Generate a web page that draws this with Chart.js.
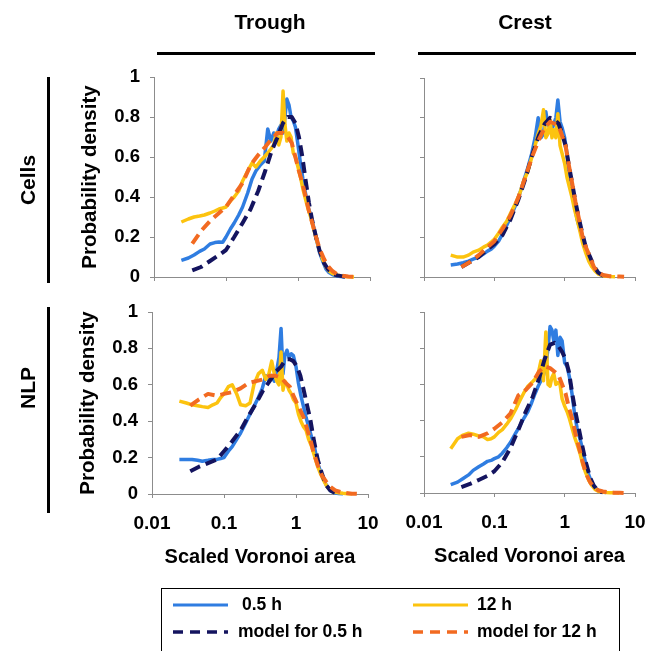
<!DOCTYPE html>
<html>
<head>
<meta charset="utf-8">
<script src="https://cdn.jsdelivr.net/npm/chart.js@4.4.0/dist/chart.umd.min.js"></script>
<style>
html,body{margin:0;padding:0;background:#fff;}
body{width:657px;height:651px;position:relative;overflow:hidden;font-family:'Liberation Sans',Arial,sans-serif;color:#000;}
canvas.panel{position:absolute;left:0;top:0;}
.lbl{position:absolute;white-space:nowrap;font-weight:bold;line-height:1;}
.c{transform:translate(-50%,-50%);}
.rot{transform:translate(-50%,-50%) rotate(-90deg);}
.leg{position:absolute;white-space:nowrap;font-weight:bold;font-size:17.5px;line-height:1;transform:translateY(-50%);}
#legbox{position:absolute;left:161px;top:588px;width:459px;height:80px;border:1.5px solid #000;box-sizing:border-box;}
svg#deco{position:absolute;left:0;top:0;}
</style>
</head>
<body>
<canvas class="panel" id="tl" width="657" height="651"></canvas>
<canvas class="panel" id="tr" width="657" height="651"></canvas>
<canvas class="panel" id="bl" width="657" height="651"></canvas>
<canvas class="panel" id="br" width="657" height="651"></canvas>

<div class="lbl c" style="left:270px;top:21px;font-size:21px;">Trough</div>
<div class="lbl c" style="left:525px;top:21px;font-size:21px;">Crest</div>
<div class="lbl rot" style="left:27px;top:180px;font-size:21px;">Cells</div>
<div class="lbl rot" style="left:27px;top:388px;font-size:21px;">NLP</div>

<div id="legbox"></div>
<svg id="deco" width="657" height="651">
  <line x1="157" y1="53.5" x2="375" y2="53.5" stroke="#000" stroke-width="3"/>
  <line x1="418" y1="53.5" x2="636" y2="53.5" stroke="#000" stroke-width="3"/>
  <line x1="48.5" y1="77" x2="48.5" y2="283" stroke="#000" stroke-width="3"/>
  <line x1="48.5" y1="307" x2="48.5" y2="513" stroke="#000" stroke-width="3"/>
  <line x1="173" y1="605" x2="228" y2="605" stroke="#2f7de1" stroke-width="3"/>
  <line x1="413" y1="605" x2="468" y2="605" stroke="#fcc30f" stroke-width="3"/>
  <line x1="173" y1="632" x2="228" y2="632" stroke="#14145f" stroke-width="3.5" stroke-dasharray="10,7"/>
  <line x1="413" y1="632" x2="468" y2="632" stroke="#f26a21" stroke-width="3.5" stroke-dasharray="10,7"/>
</svg>
<div class="leg" style="left:242px;top:605px;">0.5 h</div>
<div class="leg" style="left:477px;top:605px;">12 h</div>
<div class="leg" style="left:238px;top:632px;">model for 0.5 h</div>
<div class="leg" style="left:477px;top:632px;">model for 12 h</div>

<script>
// ---------- data ----------
const xTicks = [0.01, 0.1, 1, 10];
const yTicks = [0, 0.2, 0.4, 0.6, 0.8, 1];

// x positions of measured (solid) curves
const xData = [0.024,0.03,0.036,0.043,0.05,0.06,0.07,0.08,0.09,0.1,
               0.115,0.13,0.15,0.17,0.2,0.23,0.26,0.3,0.34,0.38,
               0.42,0.46,0.5,0.54,0.58,0.62,0.66,0.7,0.75,0.8,
               0.86,0.92,1.0,1.08,1.17,1.27,1.38,1.5,1.65,1.8,
               2.0,2.2,2.45,2.7,3.0,3.4,3.9,4.5,5.2,6.0];
// x positions of model (dashed) curves
const xModel = [0.034,0.045,0.06,0.08,0.1,0.13,0.17,0.22,0.28,0.35,
                0.43,0.52,0.62,0.72,0.82,0.92,1.03,1.15,1.28,1.42,
                1.58,1.78,2.0,2.3,2.6,3.0,3.5,4.2,5.0,6.0,7.0];

// Trough / Cells
const troughCells05 = [0.083,0.095,0.11,0.128,0.14,0.165,0.172,0.175,0.174,0.2,
  0.24,0.27,0.31,0.35,0.42,0.49,0.53,0.56,0.58,0.74,
  0.68,0.72,0.7,0.74,0.76,0.72,0.8,0.89,0.86,0.8,
  0.78,0.75,0.66,0.57,0.49,0.42,0.35,0.31,0.25,0.19,
  0.12,0.08,0.04,0.022,0.012,0.006,0.003,0.001,null,null];
const troughCells12 = [0.275,0.29,0.3,0.305,0.31,0.32,0.33,0.34,0.345,0.35,
  0.38,0.4,0.43,0.48,0.53,0.57,0.55,0.58,0.6,0.62,
  0.64,0.66,0.72,0.66,0.7,0.93,0.76,0.68,0.72,0.7,
  0.62,0.6,0.55,0.5,0.44,0.39,0.34,0.3,0.24,0.19,
  0.13,0.09,0.05,0.03,0.018,0.01,0.006,0.003,0.001,0];
const troughCellsModel05 = [0.033,0.05,0.08,0.11,0.135,0.2,0.27,0.34,0.43,0.53,
  0.63,0.7,0.77,0.8,0.8,0.77,0.7,0.6,0.48,0.37,
  0.28,0.2,0.13,0.07,0.04,0.018,0.008,0.003,0.001,null,null];
const troughCellsModel12 = [0.167,0.23,0.28,0.32,0.35,0.41,0.47,0.56,0.61,0.65,
  0.69,0.72,0.72,0.7,0.67,0.6,0.53,0.47,0.4,0.33,
  0.27,0.2,0.14,0.09,0.055,0.03,0.014,0.006,0.003,0.001,0];

// Crest / Cells
const crestCells05 = [0.06,0.065,0.072,0.08,0.09,0.1,0.115,0.13,0.14,0.155,
  0.18,0.215,0.26,0.3,0.36,0.42,0.48,0.55,0.62,0.7,
  0.8,0.7,0.72,0.83,0.76,0.78,0.74,0.77,0.8,0.89,
  0.78,0.75,0.7,0.62,0.5,0.42,0.36,0.29,0.24,0.2,
  0.14,0.1,0.065,0.04,0.02,0.01,0.005,0.002,null,null];
const crestCells12 = [0.11,0.1,0.1,0.11,0.125,0.135,0.15,0.16,0.175,0.19,
  0.22,0.25,0.28,0.32,0.37,0.42,0.48,0.53,0.6,0.66,
  0.72,0.76,0.84,0.7,0.72,0.79,0.7,0.74,0.7,0.82,
  0.66,0.62,0.57,0.5,0.45,0.4,0.34,0.29,0.23,0.17,
  0.12,0.08,0.05,0.03,0.015,0.008,0.004,0.002,0.001,null];
const crestCellsModel05 = [0.05,0.075,0.1,0.14,0.165,0.21,0.29,0.39,0.5,0.62,
  0.71,0.77,0.8,0.79,0.77,0.72,0.66,0.56,0.47,0.38,
  0.3,0.22,0.15,0.1,0.055,0.022,0.008,0.003,null,null,null];
const crestCellsModel12 = [0.05,0.075,0.11,0.15,0.18,0.24,0.31,0.4,0.51,0.61,
  0.69,0.75,0.78,0.77,0.76,0.71,0.66,0.56,0.47,0.38,
  0.3,0.21,0.15,0.1,0.05,0.023,0.01,0.005,0.003,0.002,0.001];

// Trough / NLP
const troughNlp05 = [0.19,0.19,0.19,0.185,0.18,0.185,0.19,0.19,0.195,0.2,
  0.235,0.26,0.3,0.335,0.39,0.44,0.48,0.53,0.58,0.65,
  0.62,0.65,0.62,0.68,0.75,0.91,0.66,0.76,0.79,0.75,
  0.77,0.76,0.7,0.61,0.54,0.48,0.42,0.37,0.31,0.26,
  0.17,0.12,0.075,0.04,0.018,0.007,0.003,0.001,null,null];
const troughNlp12 = [0.51,0.5,0.49,0.485,0.48,0.475,0.49,0.5,0.53,0.55,
  0.59,0.6,0.55,0.49,0.485,0.5,0.6,0.66,0.68,0.63,
  0.66,0.73,0.66,0.62,0.6,0.78,0.57,0.62,0.6,0.57,
  0.55,0.52,0.5,0.44,0.4,0.37,0.35,0.3,0.26,0.21,
  0.15,0.11,0.07,0.04,0.02,0.012,0.007,0.004,0.002,0.001];
const troughNlpModel05 = [0.125,0.15,0.17,0.19,0.235,0.29,0.35,0.43,0.5,0.57,
  0.62,0.67,0.7,0.74,0.74,0.73,0.7,0.65,0.57,0.49,
  0.41,0.29,0.19,0.11,0.05,0.02,0.006,null,null,null,null];
const troughNlpModel12 = [0.485,0.52,0.55,0.54,0.55,0.56,0.58,0.61,0.62,0.63,
  0.65,0.65,0.64,0.61,0.59,0.54,0.5,0.46,0.42,0.36,
  0.3,0.22,0.16,0.1,0.07,0.04,0.02,0.01,0.005,0.002,0.001];

// Crest / NLP
const crestNlp05 = [0.046,0.06,0.08,0.1,0.125,0.145,0.16,0.175,0.18,0.19,
  0.2,0.22,0.25,0.28,0.33,0.37,0.41,0.45,0.5,0.55,
  0.59,0.62,0.65,0.7,0.8,0.92,0.9,0.84,0.9,0.76,
  0.86,0.84,0.72,0.7,0.64,0.55,0.44,0.36,0.3,0.24,
  0.16,0.1,0.055,0.03,0.015,0.006,0.002,null,null,null];
const crestNlp12 = [0.245,0.3,0.32,0.33,0.325,0.315,0.31,0.295,0.3,0.31,
  0.335,0.35,0.38,0.41,0.46,0.51,0.55,0.59,0.61,0.63,
  0.66,0.73,0.62,0.89,0.6,0.59,0.64,0.66,0.6,0.61,
  0.6,0.52,0.48,0.45,0.41,0.36,0.31,0.27,0.22,0.16,
  0.11,0.07,0.04,0.02,0.01,0.005,0.003,0.002,0.001,0];
const crestNlpModel05 = [0.033,0.05,0.072,0.095,0.12,0.17,0.25,0.35,0.45,0.53,
  0.63,0.74,0.82,0.83,0.81,0.78,0.74,0.67,0.55,0.45,
  0.36,0.26,0.17,0.085,0.04,0.012,0.003,null,null,null,null];
const crestNlpModel12 = [0.31,0.32,0.31,0.33,0.355,0.39,0.44,0.54,0.57,0.61,
  0.67,0.7,0.69,0.67,0.65,0.6,0.55,0.47,0.41,0.33,
  0.26,0.18,0.11,0.06,0.03,0.015,0.008,0.004,0.002,0.001,0];

// ---------- styling ----------
const FONT = "'Liberation Sans', Arial, sans-serif";
const COL_05 = '#2f7de1', COL_12 = '#fcc30f', COL_M05 = '#14145f', COL_M12 = '#f26a21';
const AXIS = '#8c8c8c';
const W = 657, H = 651;

function pts(xs, ys) {
  const out = [];
  for (let i = 0; i < xs.length; i++) if (ys[i] !== null) out.push({x: xs[i], y: ys[i]});
  return out;
}

function makePanel(id, box, yLabels, xLabels, d05, d12, m05, m12) {
  const yW = yLabels ? 80 : 4;
  const xH = xLabels ? 79 : 4;
  const datasets = [
    {label: 'model for 12 h', data: pts(xModel, m12), borderColor: COL_M12, borderWidth: 4, borderDash: [11, 6]},
    {label: 'model for 0.5 h', data: pts(xModel, m05), borderColor: COL_M05, borderWidth: 4, borderDash: [11, 6]},
    {label: '12 h', data: pts(xData, d12), borderColor: COL_12, borderWidth: 3.5},
    {label: '0.5 h', data: pts(xData, d05), borderColor: COL_05, borderWidth: 3.5}
  ].map(ds => Object.assign(ds, {pointRadius: 0, fill: false, tension: 0, clip: 8, borderCapStyle: 'butt', borderJoinStyle: 'round'}));

  new Chart(document.getElementById(id), {
    type: 'line',
    data: {datasets},
    options: {
      responsive: false,
      animation: false,
      devicePixelRatio: 1,
      layout: {padding: {left: box.l - yW, top: box.t, right: W - box.r, bottom: H - box.b - xH}},
      plugins: {legend: {display: false}, tooltip: {enabled: false}},
      scales: {
        x: {
          type: 'logarithmic', min: 0.01, max: 10,
          afterBuildTicks: s => { s.ticks = xTicks.map(v => ({value: v})); },
          afterFit: s => { s.height = xH; s.paddingLeft = 0; s.paddingRight = 0; },
          grid: {drawOnChartArea: false, drawTicks: true, tickLength: 4, color: AXIS, lineWidth: 1},
          border: {display: true, color: AXIS, width: 1},
          ticks: {display: xLabels, autoSkip: false, maxRotation: 0, padding: 14, color: '#000',
                  font: {family: FONT, size: 19, weight: 'bold'},
                  callback: v => String(v)},
          title: {display: xLabels, text: 'Scaled Voronoi area', color: '#000',
                  font: {family: FONT, size: 20, weight: 'bold'}, padding: {top: 4, bottom: 4}}
        },
        y: {
          type: 'linear', min: 0, max: 1,
          afterBuildTicks: s => { s.ticks = yTicks.map(v => ({value: v})); },
          afterFit: s => { s.width = yW; s.paddingTop = 0; s.paddingBottom = 0; },
          grid: {drawOnChartArea: false, drawTicks: true, tickLength: 4, color: AXIS, lineWidth: 1},
          border: {display: true, color: AXIS, width: 1},
          ticks: {display: yLabels, padding: 10, color: '#000',
                  font: {family: FONT, size: 18.5, weight: 'bold'},
                  callback: v => String(v)},
          title: {display: yLabels, text: 'Probability density', color: '#000',
                  font: {family: FONT, size: 20.5, weight: 'bold'}, padding: {top: 4, bottom: 4}}
        }
      }
    }
  });
}

makePanel('tl', {l: 154, r: 370, t: 77, b: 277}, true, false, troughCells05, troughCells12, troughCellsModel05, troughCellsModel12);
makePanel('tr', {l: 424, r: 635, t: 78, b: 277}, false, false, crestCells05, crestCells12, crestCellsModel05, crestCellsModel12);
makePanel('bl', {l: 152, r: 368, t: 312, b: 494}, true, true, troughNlp05, troughNlp12, troughNlpModel05, troughNlpModel12);
makePanel('br', {l: 424, r: 635, t: 312, b: 493}, false, true, crestNlp05, crestNlp12, crestNlpModel05, crestNlpModel12);
</script>
</body>
</html>
